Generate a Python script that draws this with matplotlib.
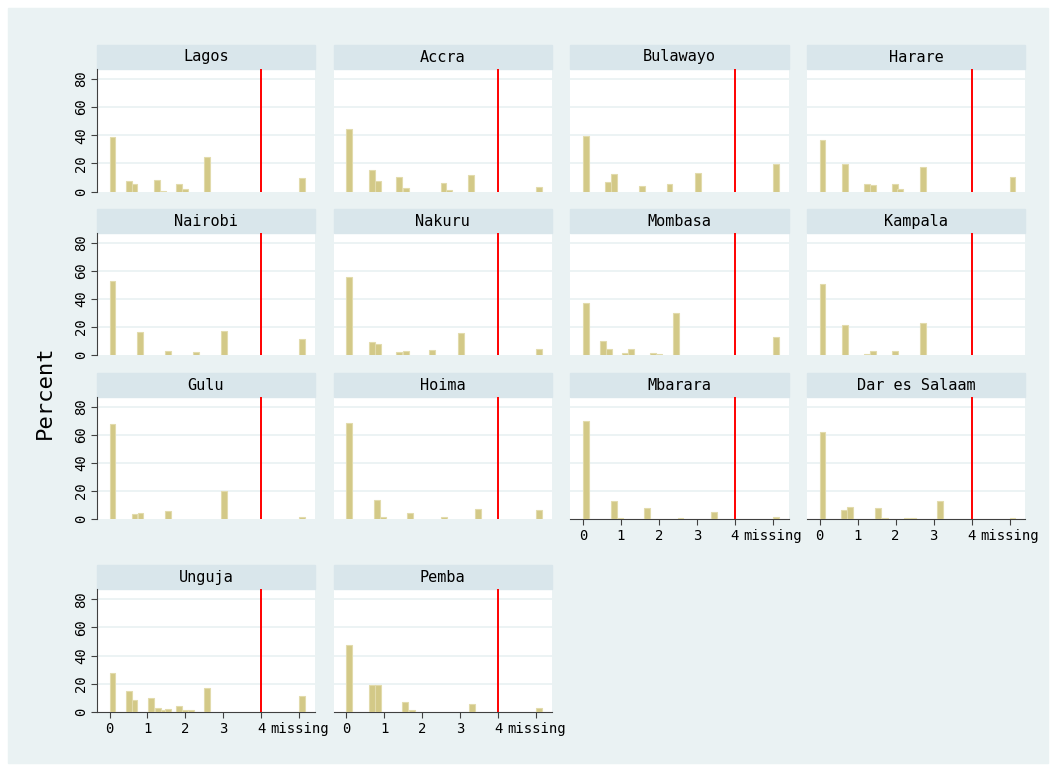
import matplotlib.pyplot as plt
from matplotlib.patches import Rectangle

# share of respondents (percent) by value, one panel per city
# x values are bar left edges, 5 stands for "missing"
cities = ["Lagos", "Accra", "Bulawayo", "Harare",
          "Nairobi", "Nakuru", "Mombasa", "Kampala",
          "Gulu", "Hoima", "Mbarara", "Dar es Salaam",
          "Unguja", "Pemba"]

lagos_x = [0, 0.43, 0.58, 1.18, 1.33, 1.75, 1.90, 2.49, 5]
lagos_pct = [38.8, 7.8, 5.7, 8.5, 0.7, 5.2, 1.7, 24.4, 9.9]

accra_x = [0, 0.60, 0.75, 1.32, 1.49, 2.48, 2.63, 3.20, 5]
accra_pct = [44.7, 15.4, 7.6, 10.4, 2.6, 6.2, 1.4, 11.6, 3.1]

bulawayo_x = [0, 0.58, 0.74, 1.47, 2.20, 2.95, 5]
bulawayo_pct = [39.5, 6.6, 12.5, 3.8, 5.7, 13.5, 19.6]

harare_x = [0, 0.58, 1.17, 1.33, 1.90, 2.05, 2.64, 5]
harare_pct = [36.7, 19.6, 5.7, 4.7, 5.2, 2.1, 17.5, 10.7]

nairobi_x = [0, 0.73, 1.46, 2.20, 2.93, 5]
nairobi_pct = [52.7, 16.4, 3.1, 1.9, 16.9, 11.4]

nakuru_x = [0, 0.60, 0.75, 1.32, 1.49, 2.19, 2.94, 5]
nakuru_pct = [56.0, 9.0, 8.1, 2.1, 3.1, 3.6, 15.7, 4.5]

mombasa_x = [0, 0.44, 0.60, 1.03, 1.18, 1.77, 1.93, 2.36, 5]
mombasa_pct = [37.3, 10.0, 4.0, 1.7, 4.5, 1.7, 0.7, 29.9, 13.1]

kampala_x = [0, 0.58, 1.17, 1.33, 1.90, 2.64]
kampala_pct = [50.6, 21.6, 0.7, 3.1, 2.6, 22.6]

gulu_x = [0, 0.58, 0.74, 1.46, 2.93, 5]
gulu_pct = [67.8, 3.3, 4.3, 5.7, 20.0, 1.4]

hoima_x = [0, 0.73, 0.89, 1.61, 2.50, 3.38, 5]
hoima_pct = [68.7, 13.4, 1.4, 4.3, 1.4, 7.4, 6.4]

mbarara_x = [0, 0.74, 0.91, 1.61, 2.49, 3.38, 5]
mbarara_pct = [70.2, 12.7, 1.0, 7.9, 1.0, 5.0, 1.7]

dar_x = [0, 0.56, 0.73, 1.47, 1.65, 2.21, 2.37, 3.09, 5]
dar_pct = [62.3, 6.5, 8.9, 7.5, 1.0, 0.7, 0.7, 12.5, 1.0]

unguja_x = [0, 0.43, 0.58, 1.01, 1.19, 1.35, 1.46, 1.75, 1.90, 2.07, 2.49, 5]
unguja_pct = [27.8, 15.2, 8.8, 9.7, 2.8, 1.2, 2.4, 4.0, 1.2, 1.4, 16.9, 11.2]

pemba_x = [0, 0.60, 0.75, 1.47, 1.65, 3.23, 5]
pemba_pct = [47.5, 18.8, 18.8, 7.4, 1.2, 5.5, 2.9]

xs = [lagos_x, accra_x, bulawayo_x, harare_x, nairobi_x, nakuru_x, mombasa_x,
      kampala_x, gulu_x, hoima_x, mbarara_x, dar_x, unguja_x, pemba_x]
pcts = [lagos_pct, accra_pct, bulawayo_pct, harare_pct, nairobi_pct, nakuru_pct,
        mombasa_pct, kampala_pct, gulu_pct, hoima_pct, mbarara_pct, dar_pct,
        unguja_pct, pemba_pct]

xtick_pos = [0, 1, 2, 3, 4, 5]
xtick_lab = ["0", "1", "2", "3", "4", "missing"]
ytick_pos = [0, 20, 40, 60, 80]

W, H = 1056, 771
font = "DejaVu Sans Mono"
bar_col = "#d3c987"
bar_edge = "#e2dbac"
bg_col = "#eaf2f3"
strip_col = "#d9e6eb"
axis_col = "#404040"

fig = plt.figure(figsize=(W / 100, H / 100), dpi=100, facecolor="white")
fig.patches.append(Rectangle((8 / W, 8 / H), 1040 / W, 755 / H,
                             transform=fig.transFigure, color=bg_col, zorder=-10))

col_left = [96.7, 333.5, 570.2, 806.8]
col_w = 218.3
rows = [(69, 191.7), (233.3, 355), (397, 519), (589.3, 712)]
strip_h = 24
bottom_panels = {"Mbarara", "Dar es Salaam", "Unguja", "Pemba"}

for i, city in enumerate(cities):
    r, c = divmod(i, 4)
    top, bot = rows[r]
    ax = fig.add_axes([col_left[c] / W, 1 - bot / H, col_w / W, (bot - top) / H])
    ax.set_facecolor("white")
    ax.bar(xs[i], pcts[i], width=0.155, align="edge", color=bar_col,
           edgecolor=bar_edge, linewidth=0.8, zorder=3)
    ax.axvline(4, color="red", linewidth=1.4, zorder=4)
    ax.set_xlim(-0.337, 5.41)
    ax.set_ylim(0, 87)
    for g in ytick_pos[1:]:
        ax.axhline(g, color=bg_col, linewidth=1.3, zorder=1)
    for s in ax.spines.values():
        s.set_visible(False)

    # strip title
    ax.add_patch(Rectangle((0, 1), 1, strip_h / (bot - top), transform=ax.transAxes,
                           color=strip_col, clip_on=False, zorder=2))
    ax.text(0.5, 1 + strip_h / 2 / (bot - top), city, transform=ax.transAxes,
            ha="center", va="center", fontsize=11, family=font, color="black")

    if c == 0:
        ax.spines["left"].set_visible(True)
        ax.spines["left"].set_color(axis_col)
        ax.set_yticks(ytick_pos)
        ax.set_yticklabels([str(v) for v in ytick_pos], rotation=90, va="center",
                           family=font, fontsize=10)
        ax.tick_params(axis="y", length=4, color=axis_col, pad=2)
    else:
        ax.set_yticks([])

    if city in bottom_panels:
        ax.spines["bottom"].set_visible(True)
        ax.spines["bottom"].set_color(axis_col)
        ax.set_xticks(xtick_pos)
        ax.set_xticklabels(xtick_lab, family=font, fontsize=10)
        ax.tick_params(axis="x", length=4, color=axis_col, pad=3)
    else:
        ax.set_xticks([])

fig.text(45 / W, 1 - 392 / H, "Percent", rotation=90, ha="center", va="center",
         family=font, fontsize=16)

fig.savefig("out.png", dpi=100, facecolor="white")
